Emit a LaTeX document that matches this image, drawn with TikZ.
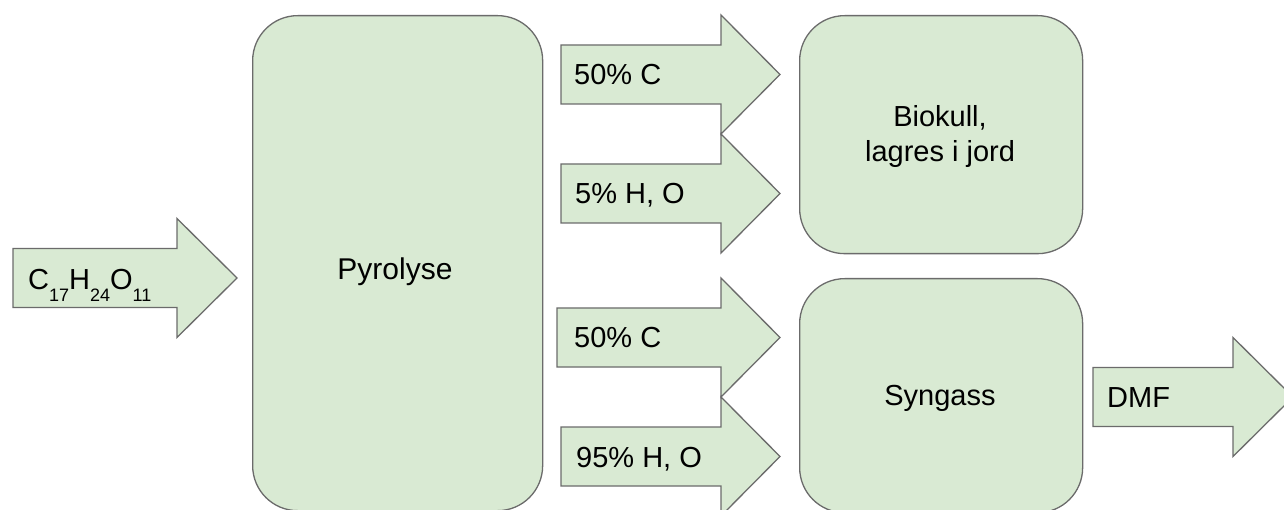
\documentclass[tikz,border=0pt]{standalone}
\usepackage{fontspec}
\setmainfont{Liberation Sans}
\definecolor{boxfill}{HTML}{D9EAD3}
\definecolor{boxline}{HTML}{6B6B6B}
% block arrow: tail x, centre y, head base x, tip x
\newcommand\flowarrow[4]{%
  \draw[arr] (#1,#2-29.5) -- (#3,#2-29.5) -- (#3,#2-59.5) -- (#4,#2)
    -- (#3,#2+59.5) -- (#3,#2+29.5) -- (#1,#2+29.5) -- cycle;}
\newcommand\subnum[1]{\raisebox{-12pt}{\fontsize{18}{18}\selectfont #1}}
\begin{document}
\begin{tikzpicture}[x=1pt,y=-1pt,
  arr/.style={fill=boxfill,draw=boxline,line width=1.3pt,line join=miter},
  box/.style={fill=boxfill,draw=boxline,line width=1.3pt,rounded corners=45pt,
    inner sep=0pt,anchor=north west},
  txt/.style={inner sep=0pt,font=\fontsize{29}{35}\selectfont},
  lbl/.style={txt,anchor=base west}]
\useasboundingbox (0,0) rectangle (1284,510);

% process blocks
\node[box,minimum width=290pt,minimum height=495pt] (pyro) at (252,15) {};
\node[box,minimum width=283pt,minimum height=238pt] (bio) at (799,15) {};
\node[box,minimum width=283pt,minimum height=234pt] (syn) at (799,278) {};

\node[txt,anchor=base] (pyrotxt) at (395,280) {\fontsize{30}{35}\selectfont Pyrolyse};
\node[txt,anchor=base] (biotxt1) at (940,127) {Biokull,};
\node[txt,anchor=base] (biotxt2) at (940,162) {lagres i jord};
\node[txt,anchor=base] (syntxt) at (940,405) {Syngass};

% flows
\flowarrow{13}{278}{177}{237}
\node[lbl] (feed) at (28,290) {C\subnum{17}H\subnum{24}O\subnum{11}};

\flowarrow{561}{74.5}{721}{780}
\node[lbl] (c1) at (574,85) {50\% C};
\flowarrow{561}{193.5}{721}{780}
\node[lbl] (ho1) at (575,204) {5\% H, O};
\flowarrow{557}{337.5}{721}{780}
\node[lbl] (c2) at (574,348) {50\% C};
\flowarrow{561}{456.5}{721}{780}
\node[lbl] (ho2) at (576,467) {95\% H, O};

\flowarrow{1093}{397}{1233}{1293}
\node[lbl] (dmf) at (1107,407) {DMF};
\end{tikzpicture}
\end{document}
